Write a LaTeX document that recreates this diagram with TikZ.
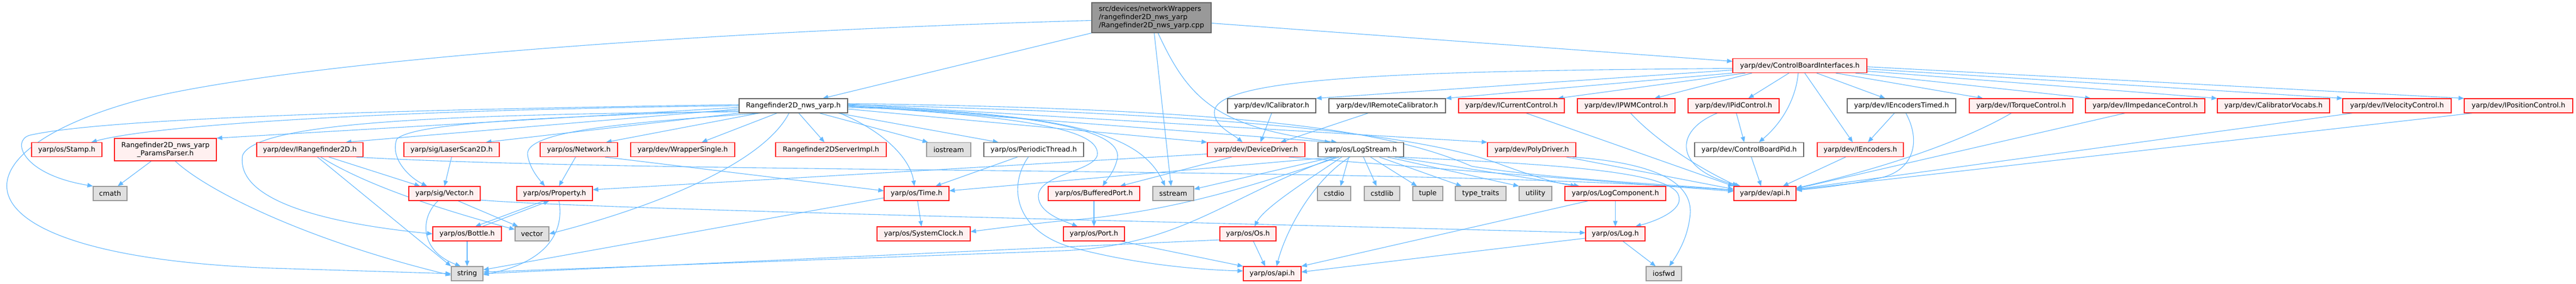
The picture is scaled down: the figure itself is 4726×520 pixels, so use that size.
\documentclass[tikz,border=0pt]{standalone}
\usepackage{fontspec}
\setmainfont{DejaVu Sans}
\usepackage{xcolor}
\definecolor{inclblue}{RGB}{99,184,255}
\definecolor{hdrred}{RGB}{255,30,30}
\definecolor{hdrpink}{RGB}{255,240,240}
\definecolor{sysgray}{RGB}{224,224,224}
\definecolor{sysline}{RGB}{153,153,153}
\definecolor{plainline}{RGB}{102,102,102}
\definecolor{rootgray}{RGB}{153,153,153}
\usepackage{tikz}
\usetikzlibrary{arrows.meta}
\usetikzlibrary{backgrounds}

\tikzset{
  hdr/.style={draw,line width=1.2pt,minimum height=26pt,inner sep=0pt,font=\fontsize{12.7}{15}\selectfont},
  redhdr/.style={hdr,draw=hdrred,fill=hdrpink},
  plainhdr/.style={hdr,draw=plainline,fill=white},
  syshdr/.style={hdr,draw=sysline,fill=sysgray},
  roothdr/.style={hdr,draw=plainline,fill=rootgray,align=left},
  incl/.style={draw=inclblue,line width=1.1pt,-{Triangle[length=10pt,width=8pt]}}
}

\begin{document}
\begin{tikzpicture}[x=1pt,y=-1pt]
\useasboundingbox (0,0) rectangle (4726,520);

\node (cpp) at (2112.5,32.5) [roothdr,minimum width=219pt,minimum height=55pt]{src/devices/networkWrappers\\/rangefinder2D\_nws\_yarp\\/Rangefinder2D\_nws\_yarp.cpp};
\node (cbi) at (3302,120.5) [redhdr,minimum width=246pt]{yarp/dev/ControlBoardInterfaces.h};

\node (nws) at (1455.5,194) [plainhdr,minimum width=199pt]{Rangefinder2D\_nws\_yarp.h};
\node (ical) at (2333,194) [plainhdr,minimum width=162pt]{yarp/dev/ICalibrator.h};
\node (irc) at (2545,194) [plainhdr,minimum width=214pt]{yarp/dev/IRemoteCalibrator.h};
\node (icur) at (2773,194) [redhdr,minimum width=194pt]{yarp/dev/ICurrentControl.h};
\node (ipwm) at (2983.5,194) [redhdr,minimum width=179pt]{yarp/dev/IPWMControl.h};
\node (ipid) at (3180.5,194) [redhdr,minimum width=167pt]{yarp/dev/IPidControl.h};
\node (ienct) at (3488.5,194) [plainhdr,minimum width=199pt]{yarp/dev/IEncodersTimed.h};
\node (itrq) at (3708,194) [redhdr,minimum width=190pt]{yarp/dev/ITorqueControl.h};
\node (iimp) at (3935.5,194) [redhdr,minimum width=219pt]{yarp/dev/IImpedanceControl.h};
\node (cvoc) at (4171,194) [redhdr,minimum width=206pt]{yarp/dev/CalibratorVocabs.h};
\node (ivel) at (4397.5,194) [redhdr,minimum width=199pt]{yarp/dev/IVelocityControl.h};
\node (ipos) at (4620.5,194) [redhdr,minimum width=199pt]{yarp/dev/IPositionControl.h};

\node (stamp) at (122.5,274.5) [redhdr,minimum width=129pt]{yarp/os/Stamp.h};
\node (pparser) at (303.5,274.5) [redhdr,minimum width=187pt,minimum height=41pt,align=center]{Rangefinder2D\_nws\_yarp\\\_ParamsParser.h};
\node (irf) at (568.5,274.5) [redhdr,minimum width=195pt]{yarp/dev/IRangefinder2D.h};
\node (laser) at (828.5,274.5) [redhdr,minimum width=175pt]{yarp/sig/LaserScan2D.h};
\node (network) at (1062,274.5) [redhdr,minimum width=142pt]{yarp/os/Network.h};
\node (wrap) at (1252.5,274.5) [redhdr,minimum width=191pt]{yarp/dev/WrapperSingle.h};
\node (simpl) at (1524.5,274.5) [redhdr,minimum width=203pt]{Rangefinder2DServerImpl.h};
\node (iostream) at (1740.5,274.5) [syshdr,minimum width=81pt]{iostream};
\node (pthread) at (1896.5,274.5) [plainhdr,minimum width=183pt]{yarp/os/PeriodicThread.h};
\node (ddrv) at (2304.5,274.5) [redhdr,minimum width=179pt]{yarp/dev/DeviceDriver.h};
\node (logstream) at (2496.5,274.5) [plainhdr,minimum width=157pt]{yarp/os/LogStream.h};
\node (poly) at (2810,274.5) [redhdr,minimum width=162pt]{yarp/dev/PolyDriver.h};
\node (cbpid) at (3209,274.5) [plainhdr,minimum width=200pt]{yarp/dev/ControlBoardPid.h};
\node (ienc) at (3413,274.5) [redhdr,minimum width=158pt]{yarp/dev/IEncoders.h};

\node (cmath) at (202,355) [syshdr,minimum width=62pt]{cmath};
\node (vec) at (815.5,355) [redhdr,minimum width=131pt]{yarp/sig/Vector.h};
\node (prop) at (1017.5,355) [redhdr,minimum width=139pt]{yarp/os/Property.h};
\node (time) at (1681.5,355) [redhdr,minimum width=119pt]{yarp/os/Time.h};
\node (bport) at (2007,355) [redhdr,minimum width=168pt]{yarp/os/BufferedPort.h};
\node (sstream) at (2152.5,355) [syshdr,minimum width=75pt]{sstream};
\node (cstdio) at (2447.5,355) [syshdr,minimum width=61pt]{cstdio};
\node (cstdlib) at (2535.5,355) [syshdr,minimum width=65pt]{cstdlib};
\node (tuple) at (2619.5,355) [syshdr,minimum width=55pt]{tuple};
\node (typetr) at (2716.5,355) [syshdr,minimum width=93pt]{type\_traits};
\node (utility) at (2817,355) [syshdr,minimum width=60pt]{utility};
\node (logcomp) at (2963.5,355) [redhdr,minimum width=185pt]{yarp/os/LogComponent.h};
\node (devapi) at (3238,355) [redhdr,minimum width=114pt]{yarp/dev/api.h};

\node (bottle) at (857,429) [redhdr,minimum width=126pt]{yarp/os/Bottle.h};
\node (vector) at (976,429) [syshdr,minimum width=62pt]{vector};
\node (sysclk) at (1694.5,429) [redhdr,minimum width=171pt]{yarp/os/SystemClock.h};
\node (port) at (2007,429) [redhdr,minimum width=112pt]{yarp/os/Port.h};
\node (os) at (2289.5,429) [redhdr,minimum width=103pt]{yarp/os/Os.h};
\node (log) at (2963.5,429) [redhdr,minimum width=109pt]{yarp/os/Log.h};

\node (string) at (857,502) [syshdr,minimum width=58pt]{string};
\node (osapi) at (2334,502) [redhdr,minimum width=106pt]{yarp/os/api.h};
\node (iosfwd) at (3052.5,502) [syshdr,minimum width=65pt]{iosfwd};

\begin{scope}[on background layer]
\draw[incl] (cpp.south west) -- ([xshift=54pt]nws.north);
\draw[incl] ([yshift=-10pt]cpp.east) -- ([yshift=8pt]cbi.west);
\draw[incl] ([xshift=5pt]cpp.south) -- ([xshift=-4pt]sstream.north);
\draw[incl] ([xshift=12pt]cpp.south) .. controls (2180,180) and (2230,235) .. ([xshift=-44pt]logstream.north);
\draw[incl] ([yshift=-5pt]cpp.west) .. controls (1200,60) and (500,120) .. (250,185) .. controls (-100,281) and (-100,470) .. (500,492) -- (string.west);

\draw[incl] (nws.west) .. controls (800,200) and (300,225) .. ([xshift=45pt]stamp.north);
\draw[incl] ([yshift=-3pt]nws.west) -- (pparser.north east);
\draw[incl] ([yshift=2pt]nws.west) .. controls (800,200) and (200,215) .. (55,248) .. controls (20,257) and (40,320) .. (cmath.north west);
\draw[incl] ([yshift=-6pt]nws.west) -- ([xshift=66pt]irf.north);
\draw[incl] (nws.south west) -- ([xshift=63pt]laser.north);
\draw[incl] ([yshift=-9pt]nws.west) .. controls (1000,215) and (760,225) .. (728,255) .. controls (715,290) and (750,325) .. ([xshift=-32pt]vec.north);
\draw[incl] ([yshift=-11pt]nws.west) .. controls (800,210) and (470,225) .. (445,285) .. controls (430,380) and (650,415) .. (bottle.west);
\draw[incl] ([xshift=-63pt]nws.south) -- ([xshift=50pt]network.north);
\draw[incl] ([xshift=-60pt]nws.south) .. controls (1150,225) and (960,240) .. (968,285) .. controls (972,310) and (990,330) .. ([xshift=-18pt]prop.north);
\draw[incl] ([xshift=-30pt]nws.south) -- ([xshift=35pt]wrap.north);
\draw[incl] ([xshift=-8pt]nws.south) .. controls (1400,300) and (1200,380) .. (vector.east);
\draw[incl] ([xshift=10pt]nws.south) -- ([xshift=-12pt]simpl.north);
\draw[incl] ([xshift=48pt]nws.south) -- ([xshift=-38pt]iostream.north);
\draw[incl] ([xshift=85pt]nws.south) .. controls (1620,240) and (1670,290) .. ([xshift=-4pt]time.north);
\draw[incl] ([xshift=82pt]nws.south) -- ([xshift=-65pt]pthread.north);
\draw[incl] ([yshift=-6pt]nws.east) -- (ddrv.north west);
\draw[incl] ([yshift=-3pt]nws.east) .. controls (1850,205) and (2060,230) .. (2050,290) .. controls (2045,315) and (2030,330) .. ([xshift=16pt]bport.north);
\draw[incl] ([yshift=-1pt]nws.east) .. controls (1900,215) and (2020,240) .. (2013,285) .. controls (2005,315) and (1905,320) .. (1905,360) .. controls (1905,390) and (1950,405) .. ([xshift=-30pt]port.north);
\draw[incl] (nws.east) .. controls (1950,210) and (2090,240) .. ([xshift=-15pt]sstream.north);
\draw[incl] ([yshift=1pt]nws.east) -- ([xshift=-56pt]logstream.north);
\draw[incl] ([yshift=3pt]nws.east) -- (poly.north west);
\draw[incl] ([yshift=2pt]nws.east) .. controls (2300,210) and (2620,250) .. (2757,303) .. controls (2810,322) and (2850,335) .. ([xshift=-72pt]logcomp.north);
\draw[incl] ([yshift=4pt]nws.east) .. controls (2300,200) and (2550,240) .. (2700,305) .. controls (2850,330) and (3100,340) .. ([yshift=6pt]devapi.west);

\draw[incl] ([xshift=-26pt]pparser.south) -- ([xshift=14pt]cmath.north);
\draw[incl] ([xshift=18pt]pparser.south) .. controls (380,350) and (560,440) .. ([yshift=-3pt]string.west);

\draw[incl] ([xshift=14pt]irf.south) -- (string.north west);
\draw[incl] ([xshift=20pt]irf.south) .. controls (680,345) and (830,390) .. ([yshift=8pt]vector.west);
\draw[incl] ([xshift=35pt]irf.south) -- ([xshift=-45pt]vec.north);
\draw[incl] ([xshift=85pt]irf.south) .. controls (1200,320) and (2600,305) .. ([yshift=6pt]devapi.west);
\draw[incl] (laser.south) -- (vec.north);
\draw[incl] ([xshift=-6pt]network.south) -- ([xshift=8pt]prop.north);
\draw[incl] ([xshift=48pt]network.south) -- ([yshift=5pt]time.west);
\draw[incl] ([xshift=-30pt]pthread.south) -- ([xshift=35pt]time.north);
\draw[incl] ([xshift=-10pt]pthread.south) .. controls (1850,340) and (1860,420) .. (1960,452) .. controls (2080,485) and (2200,495) .. ([yshift=5pt]osapi.west);

\draw[incl] ([yshift=-8pt]ddrv.west) -- ([yshift=7pt]prop.east);
\draw[incl] ([xshift=-45pt]ddrv.south) -- ([xshift=48pt]bport.north);
\draw[incl] ([xshift=60pt]ddrv.south) -- ([yshift=4pt]devapi.west);
\draw[incl] (ical.south) -- ([xshift=8pt]ddrv.north);
\draw[incl] ([xshift=-35pt]irc.south) -- ([xshift=45pt]ddrv.north);

\draw[incl] ([yshift=-5pt]cbi.west) .. controls (2600,130) and (2230,140) .. (2228,205) .. controls (2226,230) and (2260,245) .. ([xshift=-25pt]ddrv.north);
\draw[incl] ([yshift=-8pt]cbi.west) -- (ical.north east);
\draw[incl] (cbi.south west) -- (irc.north east);
\draw[incl] ([xshift=-100pt]cbi.south) -- ([xshift=85pt]icur.north);
\draw[incl] ([xshift=-88pt]cbi.south) -- ([xshift=52pt]ipwm.north);
\draw[incl] ([xshift=-20pt]cbi.south) -- ([xshift=27pt]ipid.north);
\draw[incl] ([xshift=-3pt]cbi.south) .. controls (3295,180) and (3270,225) .. ([xshift=18pt]cbpid.north);
\draw[incl] ([xshift=9pt]cbi.south) -- ([xshift=-14pt]ienc.north);
\draw[incl] ([xshift=31pt]cbi.south) -- ([xshift=-30pt]ienct.north);
\draw[incl] ([xshift=66pt]cbi.south) -- ([xshift=-70pt]itrq.north);
\draw[incl] ([xshift=102pt]cbi.south) -- ([xshift=-100pt]iimp.north);
\draw[incl] ([yshift=-10pt]cbi.east) -- (cvoc.north west);
\draw[incl] ([yshift=-6pt]cbi.east) -- (ivel.north west);
\draw[incl] ([yshift=-2pt]cbi.east) -- (ipos.north west);

\draw[incl] ([xshift=27pt]icur.south) -- (devapi.north west);
\draw[incl] ([xshift=8pt]ipwm.south) .. controls (3040,260) and (3120,310) .. ([xshift=-50pt]devapi.north);
\draw[incl] ([xshift=-30pt]ipid.south) .. controls (3070,240) and (3070,310) .. ([xshift=-45pt]devapi.north);
\draw[incl] ([xshift=5pt]ipid.south) -- ([xshift=-9pt]cbpid.north);
\draw[incl] ([xshift=4pt]cbpid.south) -- ([xshift=-7pt]devapi.north);
\draw[incl] ([xshift=-27pt]ienc.south) -- ([xshift=33pt]devapi.north);
\draw[incl] ([xshift=-13pt]ienct.south) -- ([xshift=14pt]ienc.north);
\draw[incl] ([xshift=8pt]ienct.south) .. controls (3525,260) and (3510,310) .. (3455,325) .. controls (3400,338) and (3340,345) .. ([yshift=6pt]devapi.east);
\draw[incl] ([xshift=-18pt]itrq.south) .. controls (3600,260) and (3450,310) .. ([yshift=10pt]devapi.east);
\draw[incl] ([xshift=-37pt]iimp.south) -- ([yshift=9pt]devapi.east);
\draw[incl] ([xshift=-82pt]ivel.south) -- ([yshift=8pt]devapi.east);
\draw[incl] ([xshift=-85pt]ipos.south) -- ([yshift=7pt]devapi.east);

\draw[incl] ([xshift=64pt]poly.south) -- ([yshift=8pt]devapi.west);
\draw[incl] ([xshift=75pt]poly.south) .. controls (3050,300) and (3110,340) .. (3100,400) .. controls (3095,440) and (3075,470) .. ([xshift=10pt]iosfwd.north);

\draw[incl] ([xshift=-22pt]logstream.south) -- ([xshift=12pt]cstdio.north);
\draw[incl] ([xshift=5pt]logstream.south) -- ([xshift=-10pt]cstdlib.north);
\draw[incl] ([xshift=18pt]logstream.south) -- ([xshift=-20pt]tuple.north);
\draw[incl] ([xshift=34pt]logstream.south) -- ([xshift=-35pt]typetr.north);
\draw[incl] ([xshift=49pt]logstream.south) -- (utility.north west);
\draw[incl] ([xshift=62pt]logstream.south) -- ([xshift=-66pt]logcomp.north);
\draw[incl] ([xshift=70pt]logstream.south) .. controls (2800,300) and (3070,310) .. (3080,360) .. controls (3088,385) and (3040,405) .. ([xshift=37pt]log.north);
\draw[incl] ([xshift=-50pt]logstream.south) -- ([yshift=8pt]sstream.east);
\draw[incl] ([xshift=-48pt]logstream.south) -- ([yshift=5pt]time.east);
\draw[incl] ([xshift=-40pt]logstream.south) .. controls (2300,340) and (2150,390) .. (1950,405) .. controls (1880,412) and (1820,420) .. ([yshift=4pt]sysclk.east);
\draw[incl] ([xshift=-35pt]logstream.south) .. controls (2400,330) and (2320,380) .. ([xshift=12pt]os.north);
\draw[incl] ([xshift=-20pt]logstream.south) .. controls (2410,330) and (2360,420) .. ([xshift=8pt]osapi.north);
\draw[incl] ([xshift=-45pt]logstream.south) .. controls (2250,360) and (2170,450) .. (1950,460) -- ([yshift=3pt]string.east);

\draw[incl] ([yshift=-8pt]time.west) -- ([yshift=7pt]string.east);
\draw[incl] ([xshift=2pt]time.south) -- ([xshift=-4pt]sysclk.north);
\draw[incl] (bport.south) -- (port.north);
\draw[incl] ([xshift=50pt]port.south) -- (osapi.north west);
\draw[incl] ([xshift=10pt]os.south) -- ([xshift=-13pt]osapi.north);
\draw[incl] ([yshift=-11pt]os.west) -- (string.east);
\draw[incl] (logcomp.south) -- (log.north);
\draw[incl] ([xshift=-50pt]logcomp.south) -- (osapi.north east);
\draw[incl] ([yshift=-8pt]log.west) -- ([yshift=3pt]osapi.east);
\draw[incl] ([xshift=14pt]log.south) -- ([xshift=-15pt]iosfwd.north);

\draw[incl] ([xshift=25pt]vec.south) -- ([xshift=6pt]vector.north west);
\draw[incl] ([xshift=-12pt]vec.south) .. controls (770,400) and (770,460) .. ([xshift=-12pt]string.north);
\draw[incl] ([yshift=-12pt]vec.east) .. controls (1100,385) and (2300,410) .. ([yshift=2pt]log.west);
\draw[incl] ([xshift=-20pt]prop.south) -- ([xshift=15pt]bottle.north);
\draw[incl] ([xshift=28pt]bottle.north) -- ([xshift=-10pt]prop.south);
\draw[incl] (bottle.south) -- (string.north);
\draw[incl] ([xshift=8pt]prop.south) .. controls (1035,420) and (1010,480) .. ([yshift=-2pt]string.east);
\end{scope}
\end{tikzpicture}
\end{document}
